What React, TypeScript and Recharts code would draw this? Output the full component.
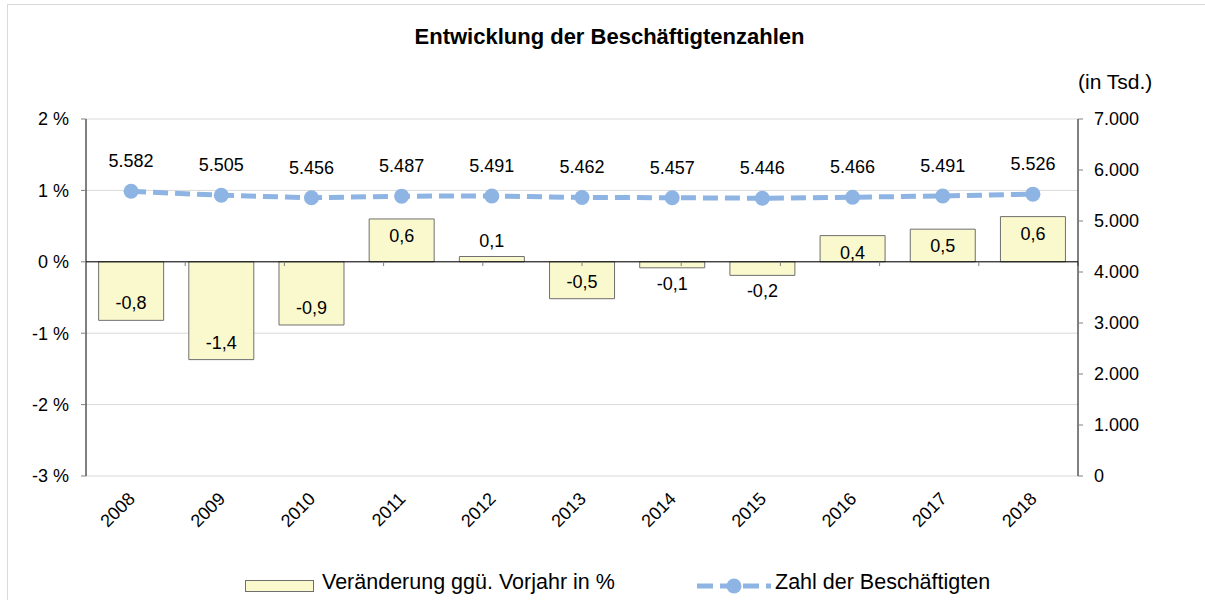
import * as React from 'react';
import { ComposedChart, Bar, Line, XAxis, YAxis, CartesianGrid, ReferenceLine, LabelList } from 'recharts';

const years = ['2008', '2009', '2010', '2011', '2012', '2013', '2014', '2015', '2016', '2017', '2018'];
// change vs previous year in % (bar heights, labels round to one decimal)
const changePct = [-0.82, -1.37, -0.885, 0.6, 0.074, -0.517, -0.084, -0.19, 0.367, 0.457, 0.633];
// employees in thousands
const employees = [5582, 5505, 5456, 5487, 5491, 5462, 5457, 5446, 5466, 5491, 5526];
const pctTicks = [-3, -2, -1, 0, 1, 2];
const countTicks = [0, 1000, 2000, 3000, 4000, 5000, 6000, 7000];
// category borders on the zero line
const borders = [1, 2, 3, 4, 5, 6, 7, 8, 9, 10];

const FONT = '"Liberation Sans", Arial, sans-serif';
const BAR_FILL = '#FAF9CD';
const BAR_STROKE = '#6f6f6f';
const LINE_COLOR = '#8EB4E3';

const fmtPct = (v: number) => v.toFixed(1).replace('.', ',');
const fmtThousands = (v: number) => String(v).replace(/\B(?=(\d{3})+(?!\d))/g, '.');

const data = years.map((year, i) => ({ year, change: changePct[i], count: employees[i] }));

const BarValueLabel = (props: any) => {
  const { x, y, width, height, value } = props;
  const top = Math.min(y, y + height);
  const bottom = Math.max(y, y + height);
  const h = bottom - top;
  let cy;
  if (value >= 0) cy = h > 20 ? top + 17 : top - 16;
  else cy = h > 20 ? bottom - 17 : bottom + 16;
  return (
    <text x={x + width / 2} y={cy} textAnchor="middle" dominantBaseline="central" fontSize={18} fill="#000" fontFamily={FONT}>
      {fmtPct(value)}
    </text>
  );
};

const YearTick = ({ x, y, payload }: any) => (
  <text
    x={x + 5}
    y={y + 24}
    transform={`rotate(-45, ${x + 5}, ${y + 24})`}
    textAnchor="end"
    fontSize={18}
    fill="#000"
    fontFamily={FONT}
  >
    {payload.value}
  </text>
);

export default function App() {
  return (
    <div
      style={{
        position: 'absolute',
        left: 7,
        top: 4,
        width: 1197,
        height: 595,
        border: '1px solid #d9d9d9',
        background: '#fff',
        fontFamily: FONT,
      }}
    >
      <div style={{ position: 'absolute', left: 0, width: 1203, top: 21, lineHeight: 1, textAlign: 'center', fontSize: 22, fontWeight: 'bold' }}>
        Entwicklung der Beschäftigtenzahlen
      </div>
      <div style={{ position: 'absolute', left: 1070, top: 66, lineHeight: 1, fontSize: 21 }}>(in Tsd.)</div>

      <ComposedChart width={1197} height={595} data={data} margin={{ top: 114, right: 47, bottom: 0, left: 8 }} barCategoryGap="14%">
        <CartesianGrid yAxisId="left" vertical={false} stroke="#d9d9d9" />
        <XAxis dataKey="year" interval={0} tick={<YearTick />} tickLine={false} axisLine={false} tickSize={0} tickMargin={0} height={124} />
        <XAxis xAxisId="grid" type="number" domain={[0, 11]} allowDataOverflow hide />
        <YAxis
          yAxisId="left"
          domain={[-3, 2]}
          ticks={pctTicks}
          tickFormatter={(v) => `${v} %`}
          width={70}
          axisLine={{ stroke: '#000' }}
          tickLine={{ stroke: '#808080' }}
          tickSize={5}
          tickMargin={12}
          tick={{ fontSize: 18, fill: '#000', fontFamily: FONT }}
        />
        <YAxis
          yAxisId="right"
          orientation="right"
          domain={[0, 7000]}
          ticks={countTicks}
          tickFormatter={fmtThousands}
          width={80}
          axisLine={{ stroke: '#000' }}
          tickLine={{ stroke: '#808080' }}
          tickSize={5}
          tickMargin={11}
          tick={{ fontSize: 18, fill: '#000', fontFamily: FONT, textAnchor: 'start' }}
        />
        <ReferenceLine yAxisId="left" y={0} stroke="#000" />
        {borders.map((b) => (
          <ReferenceLine
            key={b}
            xAxisId="grid"
            yAxisId="left"
            segment={[{ x: b, y: 0 }, { x: b, y: -0.06 }]}
            stroke="#808080"
          />
        ))}
        <Bar yAxisId="left" dataKey="change" fill={BAR_FILL} stroke={BAR_STROKE} strokeWidth={1} isAnimationActive={false}>
          <LabelList dataKey="change" content={<BarValueLabel />} />
        </Bar>
        <Line
          yAxisId="right"
          dataKey="count"
          stroke={LINE_COLOR}
          strokeWidth={5}
          strokeDasharray="15 7"
          dot={{ r: 7.5, fill: LINE_COLOR, stroke: 'none' }}
          activeDot={false}
          isAnimationActive={false}
        >
          <LabelList dataKey="count" position="top" offset={24} formatter={(v: any) => fmtThousands(v)} fontSize={18} fill="#000" stroke="none" fontFamily={FONT} />
        </Line>
      </ComposedChart>

      {/* legend */}
      <svg width={69} height={13} style={{ position: 'absolute', left: 237, top: 575 }}>
        <rect x={0.5} y={0.5} width={68} height={11} fill={BAR_FILL} stroke={BAR_STROKE} />
      </svg>
      <div style={{ position: 'absolute', left: 314, top: 567, lineHeight: 1, fontSize: 21.5, whiteSpace: 'nowrap' }}>
        Veränderung ggü. Vorjahr in %
      </div>
      <svg width={74} height={16} style={{ position: 'absolute', left: 689, top: 573 }}>
        <line x1={0} y1={8} x2={74} y2={8} stroke={LINE_COLOR} strokeWidth={5} strokeDasharray="16 7" />
        <circle cx={37} cy={8} r={7.5} fill={LINE_COLOR} />
      </svg>
      <div style={{ position: 'absolute', left: 767, top: 567, lineHeight: 1, fontSize: 21.5, whiteSpace: 'nowrap' }}>
        Zahl der Beschäftigten
      </div>
    </div>
  );
}
